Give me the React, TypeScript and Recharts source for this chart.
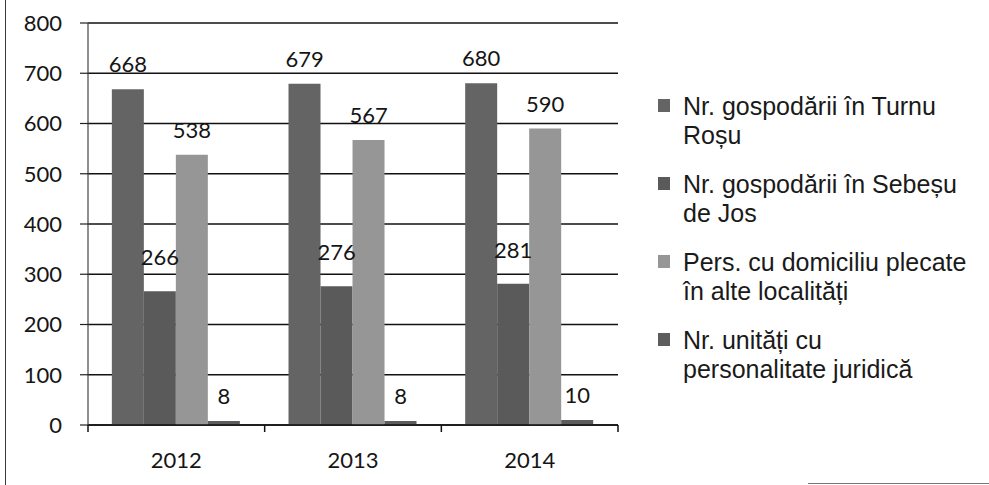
import React from 'react';
import { BarChart, Bar, XAxis, YAxis, CartesianGrid, LabelList } from 'recharts';

const years = ['2012', '2013', '2014'];
const turnuRosu = [668, 679, 680];
const sebesuDeJos = [266, 276, 281];
const plecate = [538, 567, 590];
const unitati = [8, 8, 10];
const yTicks = [0, 100, 200, 300, 400, 500, 600, 700, 800];

const seriesNames = [
  'Nr. gospodării în Turnu Roșu',
  'Nr. gospodării în Sebeșu de Jos',
  'Pers. cu domiciliu plecate în alte localități',
  'Nr. unități cu personalitate juridică',
];
const legendLines = [
  ['Nr. gospodării în Turnu', 'Roșu'],
  ['Nr. gospodării în Sebeșu', 'de Jos'],
  ['Pers. cu domiciliu plecate', 'în alte localități'],
  ['Nr. unități cu', 'personalitate juridică'],
];
const colors = ['#646464', '#5a5a5a', '#969696', '#5c5c5c'];

const data = years.map((y, i) => ({
  year: y,
  s0: turnuRosu[i],
  s1: sebesuDeJos[i],
  s2: plecate[i],
  s3: unitati[i],
}));

const tickFont = { fontFamily: 'Lato', fontSize: 22, fill: '#151515' };
const CAT_MARGIN = 27;

function CatTick(props: any) {
  const { x, y, payload, index, visibleTicksCount } = props;
  const off = payload && typeof payload.offset === 'number' ? payload.offset : 0;
  const axisY = y - CAT_MARGIN;
  const isLast = index === (visibleTicksCount ?? 3) - 1;
  return (
    <g>
      <line x1={x - off} x2={x - off} y1={axisY} y2={axisY + 7} stroke="#111" strokeWidth={1.5} />
      {isLast && <line x1={x + off} x2={x + off} y1={axisY} y2={axisY + 7} stroke="#111" strokeWidth={1.5} />}
      <text x={x} y={y} dy="0.71em" textAnchor="middle" fontFamily="Lato" fontSize={22} fill="#151515">
        {payload.value}
      </text>
    </g>
  );
}

export default function App() {
  return (
    <div style={{ position: 'absolute', left: 0, top: 0, width: 989, height: 485, background: '#fff', overflow: 'hidden' }}>
      <div style={{ position: 'absolute', left: 5, top: 0, width: 0, height: 485, borderLeft: '1.5px solid #3a3a3a' }} />
      <div style={{ position: 'absolute', left: 808, top: 483, width: 181, height: 0, borderTop: '1.5px solid #777' }} />
      <BarChart
        width={989}
        height={485}
        data={data}
        margin={{ top: 23, right: 371, bottom: 10, left: 28 }}
        barCategoryGap="13.5%"
        barGap={0}
      >
        <CartesianGrid vertical={false} stroke="#111" strokeWidth={1.5} />
        <XAxis
          dataKey="year"
          axisLine={{ stroke: '#111', strokeWidth: 1.5 }}
          tickLine={false}
          tickSize={0}
          tickMargin={CAT_MARGIN}
          height={50}
          interval={0}
          tick={<CatTick />}
        />
        <YAxis
          domain={[0, 800]}
          ticks={yTicks}
          width={60}
          tickSize={8}
          tickMargin={18}
          axisLine={{ stroke: '#444', strokeWidth: 1.2 }}
          tickLine={{ stroke: '#222', strokeWidth: 1.2 }}
          tick={tickFont}
        />
        {['s0', 's1', 's2', 's3'].map((k, i) => (
          <Bar key={k} dataKey={k} name={seriesNames[i]} fill={colors[i]} isAnimationActive={false}>
            <LabelList dataKey={k} position="top" offset={i === 1 ? 26 : 17} style={{ fontFamily: 'Lato', fontSize: 22, fill: '#151515' }} />
          </Bar>
        ))}
      </BarChart>
      <div style={{ position: 'absolute', left: 658, top: 92, fontFamily: '"Liberation Sans", Arial, sans-serif', fontSize: 25, lineHeight: '29px', color: '#1a1a1a' }}>
        {legendLines.map((lines, i) => (
          <div key={i} style={{ position: 'relative', height: 58, marginBottom: 20, paddingLeft: 25, whiteSpace: 'nowrap' }}>
            <span style={{ position: 'absolute', left: 0, top: 7, width: 12, height: 13, background: colors[i] }} />
            {lines.map((l, j) => (
              <div key={j}>{l}</div>
            ))}
          </div>
        ))}
      </div>
    </div>
  );
}
